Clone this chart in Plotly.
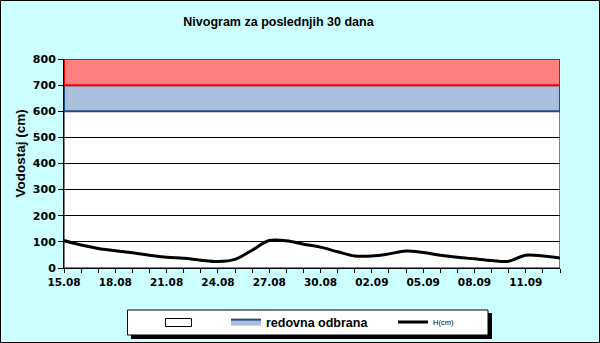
import plotly.graph_objects as go

# ---- data ----
days = ["15.08", "16.08", "17.08", "18.08", "19.08", "20.08", "21.08", "22.08",
        "23.08", "24.08", "25.08", "26.08", "27.08", "28.08", "29.08", "30.08",
        "31.08", "01.09", "02.09", "03.09", "04.09", "05.09", "06.09", "07.09",
        "08.09", "09.09", "10.09", "11.09", "12.09", "13.09"]
h_cm = [105, 88, 75, 66, 58, 49, 41, 37, 30, 25, 33, 68, 105, 104, 91,
        80, 62, 46, 46, 54, 65, 59, 49, 41, 35, 29, 26, 49, 46, 38]
zone_bounds = [0, 600, 700, 800]
zone_names = ["", "redovna odbrana", "vanredna odbrana"]
zone_fill = ["rgba(255,255,255,0)", "#A9BFDC", "#FF8080"]
zone_line = ["#000000", "#234B7D", "#FF0000"]
zone_in_legend = [False, True, False]
y_ticks = [0, 100, 200, 300, 400, 500, 600, 700, 800]

# ---- layout geometry (pixels) ----
W, H = 600, 343
L, R, T, B = 64, 40, 59, 75
PW, PH = W - L - R, H - T - B


def px(x):
    return (x - L) / PW


def py(y):
    return (H - B - y) / PH


idx = list(range(len(days)))
n_last = idx[-1]

fig = go.Figure()

for k in range(3):
    lo, hi = zone_bounds[k], zone_bounds[k + 1]
    fig.add_trace(go.Scatter(
        x=[idx[0], n_last, n_last, idx[0], idx[0]],
        y=[lo, lo, hi, hi, lo],
        mode="lines", fill="toself",
        fillcolor=zone_fill[k],
        line=dict(color=zone_line[k], width=1 if k == 0 else 2),
        name=zone_names[k],
        showlegend=zone_in_legend[k],
        legend="legend2",
        hoverinfo="skip",
    ))

fig.add_trace(go.Scatter(
    x=idx, y=h_cm, mode="lines",
    line=dict(color="black", width=3, shape="spline", smoothing=1),
    name="H(cm)", legend="legend3",
))

tick_font = dict(family="DejaVu Sans", size=10.5, color="black", weight="bold")

fig.update_layout(
    width=W, height=H,
    margin=dict(l=L, r=R, t=T, b=B, autoexpand=False),
    paper_bgcolor="#CCFFFF",
    plot_bgcolor="white",
    title=dict(text="Nivogram za poslednjih 30 dana",
               font=dict(family="Arial, Liberation Sans", size=12.5, color="black", weight="bold"),
               x=278.5 / W, xref="container", xanchor="center",
               y=1 - 22 / H, yref="container", yanchor="middle"),
    xaxis=dict(range=[idx[0], n_last], tickmode="array", tickvals=idx,
               ticktext=[d if i % 3 == 0 else "" for i, d in enumerate(days)],
               ticks="outside", ticklen=4, tickcolor="black", tickwidth=1,
               showline=True, linecolor="black", linewidth=1,
               showgrid=False, zeroline=False, tickfont=tick_font,
               fixedrange=True),
    yaxis=dict(range=[zone_bounds[0], zone_bounds[-1]], tickmode="array", tickvals=y_ticks,
               ticks="outside", ticklen=5, tickcolor="black", tickwidth=1,
               showline=True, linecolor="black", linewidth=1,
               showgrid=True, gridcolor="black", gridwidth=1, zeroline=False,
               tickfont=dict(family="DejaVu Sans", size=11, color="black", weight="bold"),
               fixedrange=True),
    legend2=dict(orientation="h", x=px(226), xanchor="left", y=py(322), yanchor="middle",
                 bgcolor="rgba(0,0,0,0)", borderwidth=0,
                 font=dict(family="Arial, Liberation Sans", size=12.5, color="black", weight="bold")),
    legend3=dict(orientation="h", x=px(393), xanchor="left", y=py(322), yanchor="middle",
                 bgcolor="rgba(0,0,0,0)", borderwidth=0,
                 font=dict(family="Arial, Liberation Sans", size=7.5, color="black")),
    showlegend=True,
)

# y-axis title
fig.add_annotation(text="Vodostaj (cm)", textangle=-90, xref="paper", yref="paper",
                   x=px(20), y=py(153.5), xanchor="center", yanchor="middle", showarrow=False,
                   font=dict(family="Arial, Liberation Sans", size=13.5, color="black", weight="bold"))

# legend box with shadow
fig.add_shape(type="rect", xref="paper", yref="paper", x0=px(131), x1=px(492), y0=py(339), y1=py(313),
              fillcolor="black", line=dict(width=0), layer="above")
fig.add_shape(type="rect", xref="paper", yref="paper", x0=px(127.5), x1=px(488), y0=py(335), y1=py(310),
              fillcolor="white", line=dict(color="black", width=1), layer="above")
# empty-label legend key (white box)
fig.add_shape(type="rect", xref="paper", yref="paper", x0=px(165.5), x1=px(191.5), y0=py(326.5), y1=py(318.5),
              fillcolor="white", line=dict(color="black", width=1), layer="above")
# outer border
fig.add_shape(type="rect", xref="paper", yref="paper", x0=px(0.5), x1=px(599.5), y0=py(342.5), y1=py(0.5),
              fillcolor="rgba(0,0,0,0)", line=dict(color="black", width=1), layer="above")

fig.write_html("out.html")
